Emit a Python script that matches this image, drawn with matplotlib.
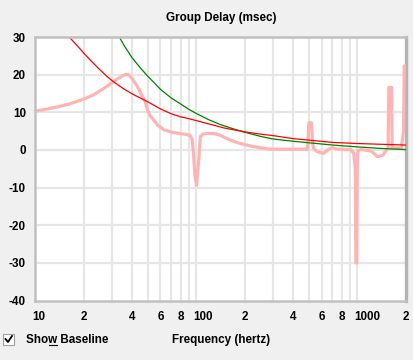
import matplotlib
matplotlib.use("Agg")
import matplotlib.pyplot as plt
from matplotlib.transforms import ScaledTranslation
from matplotlib.patches import Rectangle
from matplotlib.lines import Line2D

# ---------------- data ----------------
pink_f = [10, 12, 14, 16, 18, 20, 23, 26, 29, 32, 35, 36.6, 38, 40, 43, 46, 48.3,
          50, 52, 54.5, 58, 62.8, 68, 72.6, 80, 87.7, 92, 94.3, 96, 98, 100.4,
          102, 103.8, 106, 110, 117, 130, 141, 150, 163, 175, 188, 220, 250, 289,
          445, 490, 500, 519, 525, 533, 563, 618, 666, 700, 750, 910, 948, 970,
          978, 990, 998, 1010, 1050, 1215, 1332, 1437, 1502, 1550, 1565, 1630,
          1640, 1870, 1930, 1950, 2000]
pink_v = [10.3, 10.9, 11.5, 12.1, 12.8, 13.5, 14.6, 16.0, 17.4, 18.7, 19.7, 20.1,
          20.0, 19.0, 17.0, 14.5, 12.8, 10.5, 9.0, 7.9, 6.5, 5.4, 4.9, 4.6, 4.3,
          4.1, 3.7, 2.8, -0.5, -6.5, -9.4, -6.0, -2.3, 3.5, 4.2, 4.4, 4.3, 3.9,
          3.3, 2.6, 2.1, 1.7, 1.0, 0.56, 0.2, 0.2, 0.2, 7.2, 7.2, 3.0, 0.4, -0.5,
          -0.9, 0.2, 0.6, 0.2, 0.1, -0.9, -5.0, -30.0, -30.0, -3.0, -0.2, 0.1,
          -0.3, -1.8, -1.4, -0.2, 0.5, 16.6, 16.6, 0.5, 0.5, 4.8, 22.3, 22.3]

red_f = [16.3, 18, 20, 22, 25, 28, 30.7, 35, 40, 45, 50, 60, 70, 80, 90, 100,
         120, 150, 200, 250, 300, 400, 500, 700, 1000, 1400, 2000]
red_v = [30.0, 28.0, 25.8, 23.9, 21.5, 19.5, 18.1, 16.4, 14.9, 13.8, 12.8, 10.9,
         9.6, 8.8, 8.3, 7.8, 6.9, 5.8, 4.8, 4.2, 3.8, 3.0, 2.6, 2.0, 1.7, 1.5,
         1.3]

green_f = [33.3, 36, 40, 45, 50, 55, 60, 70, 80, 90, 100, 120, 140, 170, 200,
           250, 300, 400, 500, 700, 1000, 1400, 2000]
green_v = [30.0, 27.5, 24.5, 21.8, 19.6, 17.8, 16.1, 13.8, 12.2, 10.8, 9.7, 8.0,
           6.8, 5.6, 4.7, 3.6, 2.9, 2.3, 1.9, 1.3, 0.8, 0.4, 0.1]

xtick_vals = [10, 20, 40, 60, 80, 100, 200, 400, 600, 800, 1000, 2000]
xtick_labels = ['10', '2', '4', '6', '8', '100', '2', '4', '6', '8', '1000', '2']
xgrid_vals = [20, 30, 40, 50, 60, 70, 80, 90, 100, 200, 300, 400, 500, 600,
              700, 800, 900, 1000]
ytick_vals = [-40, -30, -20, -10, 0, 10, 20, 30]

title = "Group Delay (msec)"
xlabel = "Frequency (hertz)"
check_label = "Show Baseline"

# ---------------- figure ----------------
BG = '#f0f0f0'
W, H = 414, 360
dpi = 100
fig = plt.figure(figsize=(W / dpi, H / dpi), dpi=dpi, facecolor=BG)
font = dict(family=['Liberation Sans', 'DejaVu Sans'], weight='bold', size=8.4)

L, R, T, B = 35, 406, 37, 300.5
ax = fig.add_axes([L / W, 1 - B / H, (R - L) / W, (B - T) / H])
ax.set_facecolor('white')
ax.set_xscale('log')
ax.set_xlim(10, 2000)
ax.set_ylim(-40, 30)

for xv in xgrid_vals:
    ax.axvline(xv, color='#e6e6e6', lw=1.6, zorder=1)
for yv in ytick_vals[1:-1]:
    ax.axhline(yv, color='#e6e6e6', lw=1.6, zorder=1)

ax.plot(pink_f, pink_v, color='#ffb4b4', lw=2.3, zorder=3)
ax.plot(green_f, green_v, color='#008000', lw=0.9, zorder=4)
ax.plot(red_f, red_v, color='#ff0000', lw=0.9, zorder=5)

for s in ['left', 'top', 'bottom']:
    ax.spines[s].set_color('#c0c0c0')
    ax.spines[s].set_linewidth(1.8)
    ax.spines[s].set_zorder(6)
ax.spines['right'].set_color('#b4b4b4')
ax.spines['right'].set_linewidth(2.4)

ax.minorticks_off()
ax.set_xticks(xtick_vals)
ax.set_xticklabels(xtick_labels, **font)
ax.set_yticks(ytick_vals)
ax.set_yticklabels([str(v) for v in ytick_vals], **font)
ax.tick_params(axis='both', length=0)
ax.tick_params(axis='x', pad=7.5)
ax.tick_params(axis='y', pad=6.5)
off = ScaledTranslation(-3 / dpi, 0, fig.dpi_scale_trans)
for lab in ax.get_xticklabels():
    lab.set_ha('left')
    lab.set_transform(lab.get_transform() + off)

fig.text(221 / W, 1 - 20.7 / H, title, ha='center', va='baseline', **font)
fig.text(221 / W, 1 - 343.3 / H, xlabel, ha='center', va='baseline', **font)

# checkbox
fig.patches.append(Rectangle((3 / W, 1 - 345 / H), 11 / W, 11 / H,
                             transform=fig.transFigure, facecolor='white',
                             edgecolor='#a0a0a0', lw=0.8))
fig.lines.append(Line2D([5.5 / W, 8 / W, 12 / W],
                        [1 - 339 / H, 1 - 342 / H, 1 - 336 / H],
                        transform=fig.transFigure, color='black', lw=1.3))
t = fig.text(26 / W, 1 - 343.3 / H, check_label, ha='left', va='baseline', **font)

# underline the "w"
fig.canvas.draw()
r = fig.canvas.get_renderer()
tmp1 = fig.text(0, 0, check_label[:3], **font)
tmp2 = fig.text(0, 0, check_label[:4], **font)
w1 = tmp1.get_window_extent(r).width
w2 = tmp2.get_window_extent(r).width
tmp1.remove(); tmp2.remove()
x0 = 26 + w1 + 0.5
x1 = 26 + w2 - 0.5
fig.lines.append(Line2D([x0 / W, x1 / W], [1 - 345.3 / H, 1 - 345.3 / H],
                        transform=fig.transFigure, color='black', lw=0.8))

fig.savefig('out.png', dpi=dpi, facecolor=BG)
